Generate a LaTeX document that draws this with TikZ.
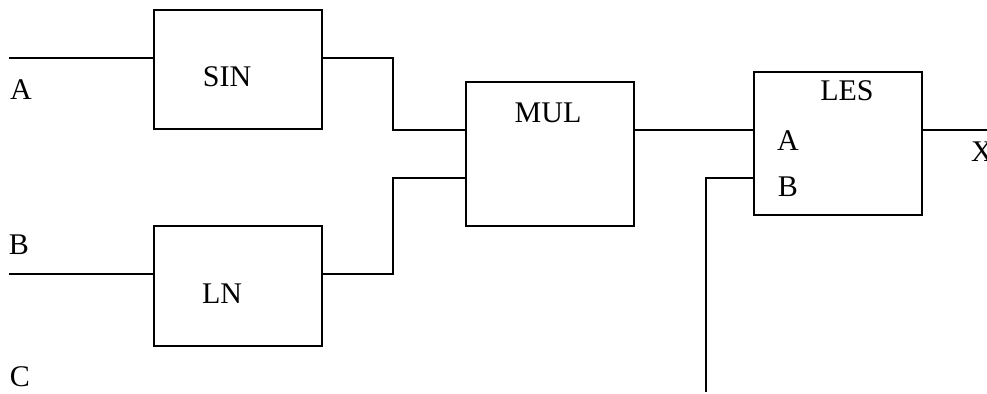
\documentclass[tikz,border=0pt]{standalone}
\usepackage{fontspec}
\setmainfont{Liberation Serif}
\usetikzlibrary{positioning,calc}

\begin{document}
\begin{tikzpicture}[x=0.5pt,y=-0.5pt,line width=1.3pt,
  blk/.style={draw,rectangle,minimum width=84pt,inner sep=0pt},
  lab/.style={inner sep=0pt,font=\fontsize{15}{18}\selectfont}]
  \useasboundingbox (0,0) rectangle (987,393);
  % function blocks
  \node[blk,minimum height=59.5pt] (sin) at (238,69.5) {};
  \node[blk,minimum height=60pt]   (ln)  at (238,286) {};
  \node[blk,minimum height=72pt]   (mul) at (550,154) {};
  \node[blk,minimum height=71.5pt] (les) at (838,143.5) {};
  \node[lab] (tsin) at (227,77)  {SIN};
  \node[lab] (tln)  at (222,294) {LN};
  \node[lab] (tmul) at (548,113) {MUL};
  \node[lab] (tles) at (847,91)  {LES};
  \node[lab] (tlesa) at (788,141) {A};
  \node[lab] (tlesb) at (788,187) {B};
  % inputs and outputs
  \node[lab] (la) at (21,90)  {A};
  \node[lab] (lb) at (19,245) {B};
  \node[lab] (lc) at (20,377) {C};
  \node[lab] (lx) at (982,152) {X};
  \coordinate (ain) at (9,58);
  \coordinate (bin) at (9,274);
  \coordinate (ja) at (393,130);
  \coordinate (jb) at (393,178);
  \coordinate (bext) at (706,392);
  \coordinate (xout) at (990,130);
  % wiring
  \draw (ain) -- (ain -| sin.west);
  \draw (bin) -- (bin -| ln.west);
  \draw (sin.east |- ain) -| (ja) -- (ja -| mul.west);
  \draw (ln.east |- bin) -| (jb) -- (jb -| mul.west);
  \draw (mul.east |- ja) -- (ja -| les.west);
  \draw (bext) |- (jb -| les.west);
  \draw (les.east |- ja) -- (xout);
\end{tikzpicture}
\end{document}
